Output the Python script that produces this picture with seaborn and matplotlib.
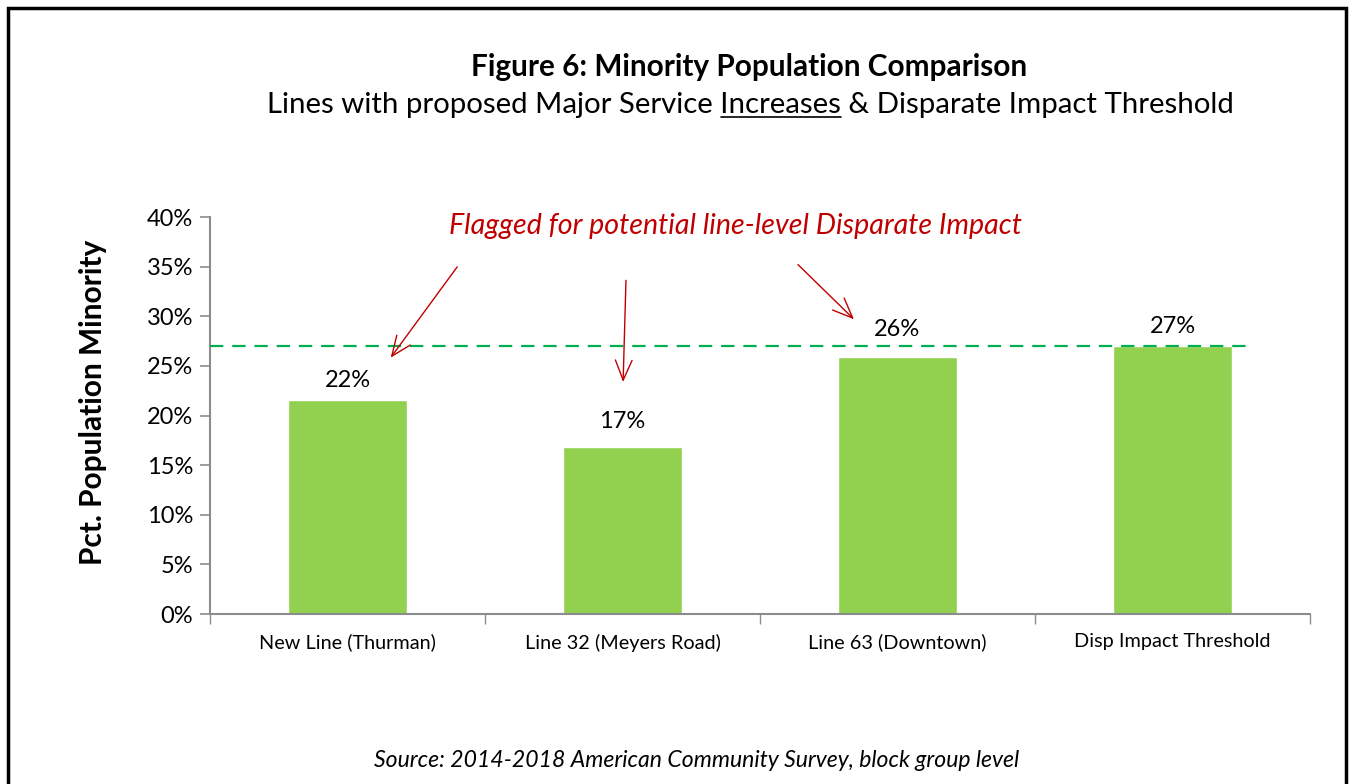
"""Figure 6: minority population comparison bar chart."""

import matplotlib.pyplot as plt
import matplotlib.ticker as mticker
import pandas as pd
import seaborn as sns
from matplotlib.patches import Rectangle
from matplotlib.lines import Line2D

# --- data ------------------------------------------------------------------
lines = ["New Line (Thurman)", "Line 32 (Meyers Road)", "Line 63 (Downtown)", "Disp Impact Threshold"]
pct_minority = [21.6, 16.8, 25.9, 27.0]
threshold = 27.0
y_ticks = [0, 5, 10, 15, 20, 25, 30, 35, 40]

BAR_GREEN = "#92D050"
LINE_GREEN = "#00B050"
RED = "#C00000"
GREY = "#8C8C8C"

sns.set_theme(style="white")
plt.rcParams["font.family"] = ["Lato", "DejaVu Sans"]
plt.rcParams["text.color"] = "black"
plt.rcParams["axes.labelcolor"] = "black"
plt.rcParams["xtick.labelcolor"] = "black"
plt.rcParams["ytick.labelcolor"] = "black"

df = pd.DataFrame({"line": lines, "pct": pct_minority})

fig = plt.figure(figsize=(13.53, 7.84), dpi=100)
ax = fig.add_axes([0.1552, 0.2168, 0.8130, 0.5064])

sns.barplot(data=df, x="line", y="pct", color=BAR_GREEN, saturation=1, width=0.43, ax=ax)

ax.set_xlim(-0.5, len(lines) - 0.5)
ax.set_ylim(0, 40)
ax.set_yticks(y_ticks)
ax.yaxis.set_major_formatter(mticker.FuncFormatter(lambda v, _: f"{v:.0f}%"))
ax.tick_params(axis="y", labelsize=17, length=7, width=1.2, color=GREY, left=True, pad=5)
# category ticks sit on the boundaries between bars
ax.set_xticks([i - 0.5 for i in range(len(lines) + 1)], minor=True)
ax.tick_params(axis="x", which="major", length=0, labelsize=14.3, pad=14)
ax.tick_params(axis="x", which="minor", length=7, width=1, color=GREY, bottom=True)
ax.set_xlabel("")
ax.set_ylabel("Pct. Population Minority", fontsize=21.5, fontweight="bold")
ax.yaxis.set_label_coords(-0.094, 0.534)

for side in ["top", "right"]:
    ax.spines[side].set_visible(False)
for side in ["left", "bottom"]:
    ax.spines[side].set_color(GREY)
    ax.spines[side].set_linewidth(1.5)

# threshold line (stops just past the last bar, as in the original)
ax.plot([-0.5, 3.27], [threshold, threshold], color=LINE_GREEN, lw=1.6, ls=(0, (6, 4)), zorder=3)

# value labels
label_offsets = [19, 26, 27, 20]
for i, (v, off) in enumerate(zip(pct_minority, label_offsets)):
    ax.annotate(f"{v:.0f}%", (i, v), xytext=(0, off), textcoords="offset pixels",
                ha="center", va="center", fontsize=17)

# flagged callout with arrows
ax.text(1.41, 39.1, "Flagged for potential line-level Disparate Impact", color=RED,
        fontsize=20.6, style="italic", ha="center", va="center")
arrows = [((0.405, 35.2), (0.151, 25.6)),
          ((1.013, 33.9), (1.002, 23.1)),
          ((1.631, 35.4), (1.849, 29.5))]
for start, end in arrows:
    ax.annotate("", xy=end, xytext=start,
                arrowprops=dict(arrowstyle="->,head_length=1.2,head_width=0.5", color=RED, lw=1))

# titles
fig.text(0.554, 0.914, "Figure 6: Minority Population Comparison", ha="center", va="center",
         fontsize=21.4, fontweight="bold")
sub = "Lines with proposed Major Service Increases & Disparate Impact Threshold"
SUB_SIZE = 21.2
sub_txt = fig.text(0.555, 0.866, sub, ha="center", va="center", fontsize=SUB_SIZE)

fig.text(0.515, 0.03, "Source: 2014-2018 American Community Survey, block group level",
         ha="center", va="center", fontsize=16.6, style="italic")

# underline "Increases" in the subtitle
fig.canvas.draw()
renderer = fig.canvas.get_renderer()
full_bb = sub_txt.get_window_extent(renderer)


def _width(s):
    t = fig.text(0, 0, s, fontsize=SUB_SIZE)
    w = t.get_window_extent(renderer).width
    t.remove()
    return w


end_px = full_bb.x0 + _width("Lines with proposed Major Service Increases")
start_px = end_px - _width("Increases")
y_px = full_bb.y0 + 1
W, H = fig.bbox.width, fig.bbox.height
fig.add_artist(Line2D([start_px / W, end_px / W], [y_px / H, y_px / H], color="black", lw=1.2))

# outer border
fig.add_artist(Rectangle((8 / W, -0.01), (1346 - 8) / W, 1 - 8 / H + 0.01, transform=fig.transFigure,
                         fill=False, edgecolor="black", lw=2.5))

fig.savefig("out.png", dpi=100)
